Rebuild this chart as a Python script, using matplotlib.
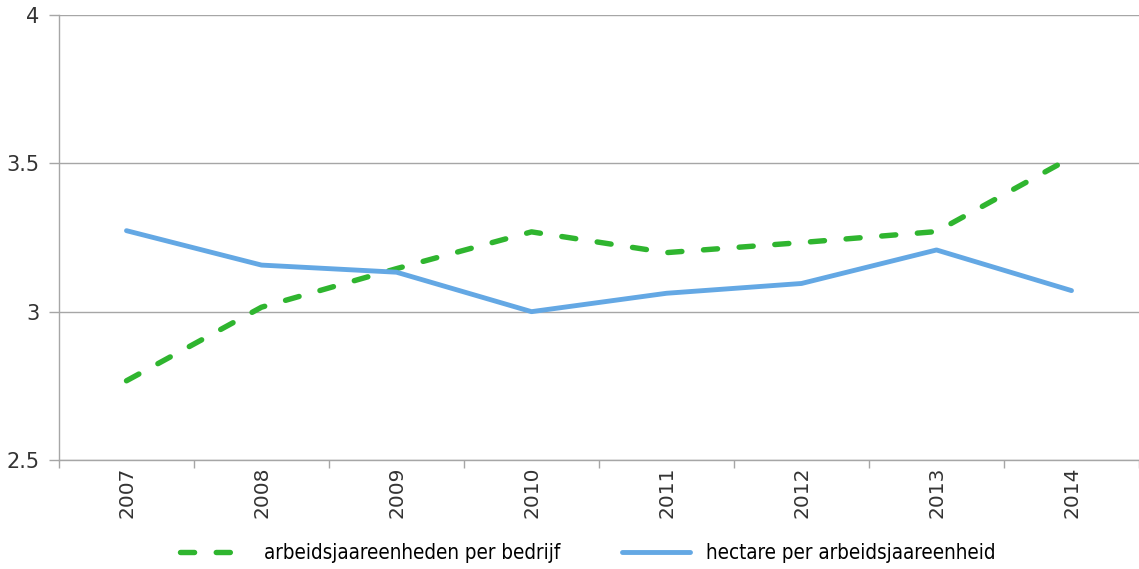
import matplotlib
matplotlib.use("Agg")
import matplotlib.pyplot as plt
from matplotlib.lines import Line2D

years = ["2007", "2008", "2009", "2010", "2011", "2012", "2013", "2014"]
aje_per_bedrijf = [2.767, 3.015, 3.145, 3.269, 3.199, 3.233, 3.270, 3.52]
hectare_per_aje = [3.273, 3.157, 3.133, 3.000, 3.062, 3.095, 3.208, 3.071]
y_ticks = [2.5, 3.0, 3.5, 4.0]
y_tick_labels = ["2.5", "3", "3.5", "4"]

GREEN = "#2fb52f"
BLUE = "#64a8e4"
GRID = "#a6a6a6"
TEXT = "#333333"
DASH = (2.6, 4.0)

plt.rcParams["font.family"] = "DejaVu Sans"

fig = plt.figure(figsize=(11.39, 5.69), dpi=100)
ax = fig.add_axes([0.0518, 0.1916, 0.9482, 0.7820])

x = list(range(len(years)))
ax.plot(x, aje_per_bedrijf, color=GREEN, lw=3.9, dashes=DASH,
        dash_capstyle="round", solid_capstyle="round",
        label="arbeidsjaareenheden per bedrijf", zorder=3)
ax.plot(x, hectare_per_aje, color=BLUE, lw=3.5, solid_capstyle="round",
        solid_joinstyle="round", label="hectare per arbeidsjaareenheid", zorder=3)

ax.set_ylim(2.5, 4.0)
ax.set_xlim(-0.5, len(years) - 0.5)
ax.set_yticks(y_ticks)
ax.set_yticklabels(y_tick_labels, fontsize=15, color=TEXT)
ax.yaxis.grid(True, color=GRID, lw=1.0)
ax.set_axisbelow(True)

# category labels centred, tick marks on the category boundaries
ax.set_xticks(x)
ax.set_xticklabels(years, rotation=90, fontsize=14.5, color=TEXT)
ax.tick_params(axis="x", which="major", length=0, pad=5)
ax.set_xticks([i - 0.5 for i in range(len(years) + 1)], minor=True)
ax.tick_params(axis="x", which="minor", length=6, color=GRID, width=1.0)
ax.tick_params(axis="y", length=7, color=GRID, width=1.0, pad=7)

for side in ("top", "right"):
    ax.spines[side].set_visible(False)
for side in ("left", "bottom"):
    ax.spines[side].set_color(GRID)
    ax.spines[side].set_linewidth(1.0)

handles = [
    Line2D([], [], color=GREEN, lw=3.9, dashes=DASH, dash_capstyle="round"),
    Line2D([], [], color=BLUE, lw=3.5, solid_capstyle="round"),
]
labels = ["arbeidsjaareenheden per bedrijf", "hectare per arbeidsjaareenheid"]
fig.legend(handles, labels, loc="center", bbox_to_anchor=(0.516, 0.028),
           ncol=2, frameon=False, handlelength=3.3,
           handletextpad=0.8, columnspacing=3.0,
           prop={"family": "DejaVu Sans", "stretch": "condensed", "size": 14.8})

fig.savefig("out.png", dpi=100)
